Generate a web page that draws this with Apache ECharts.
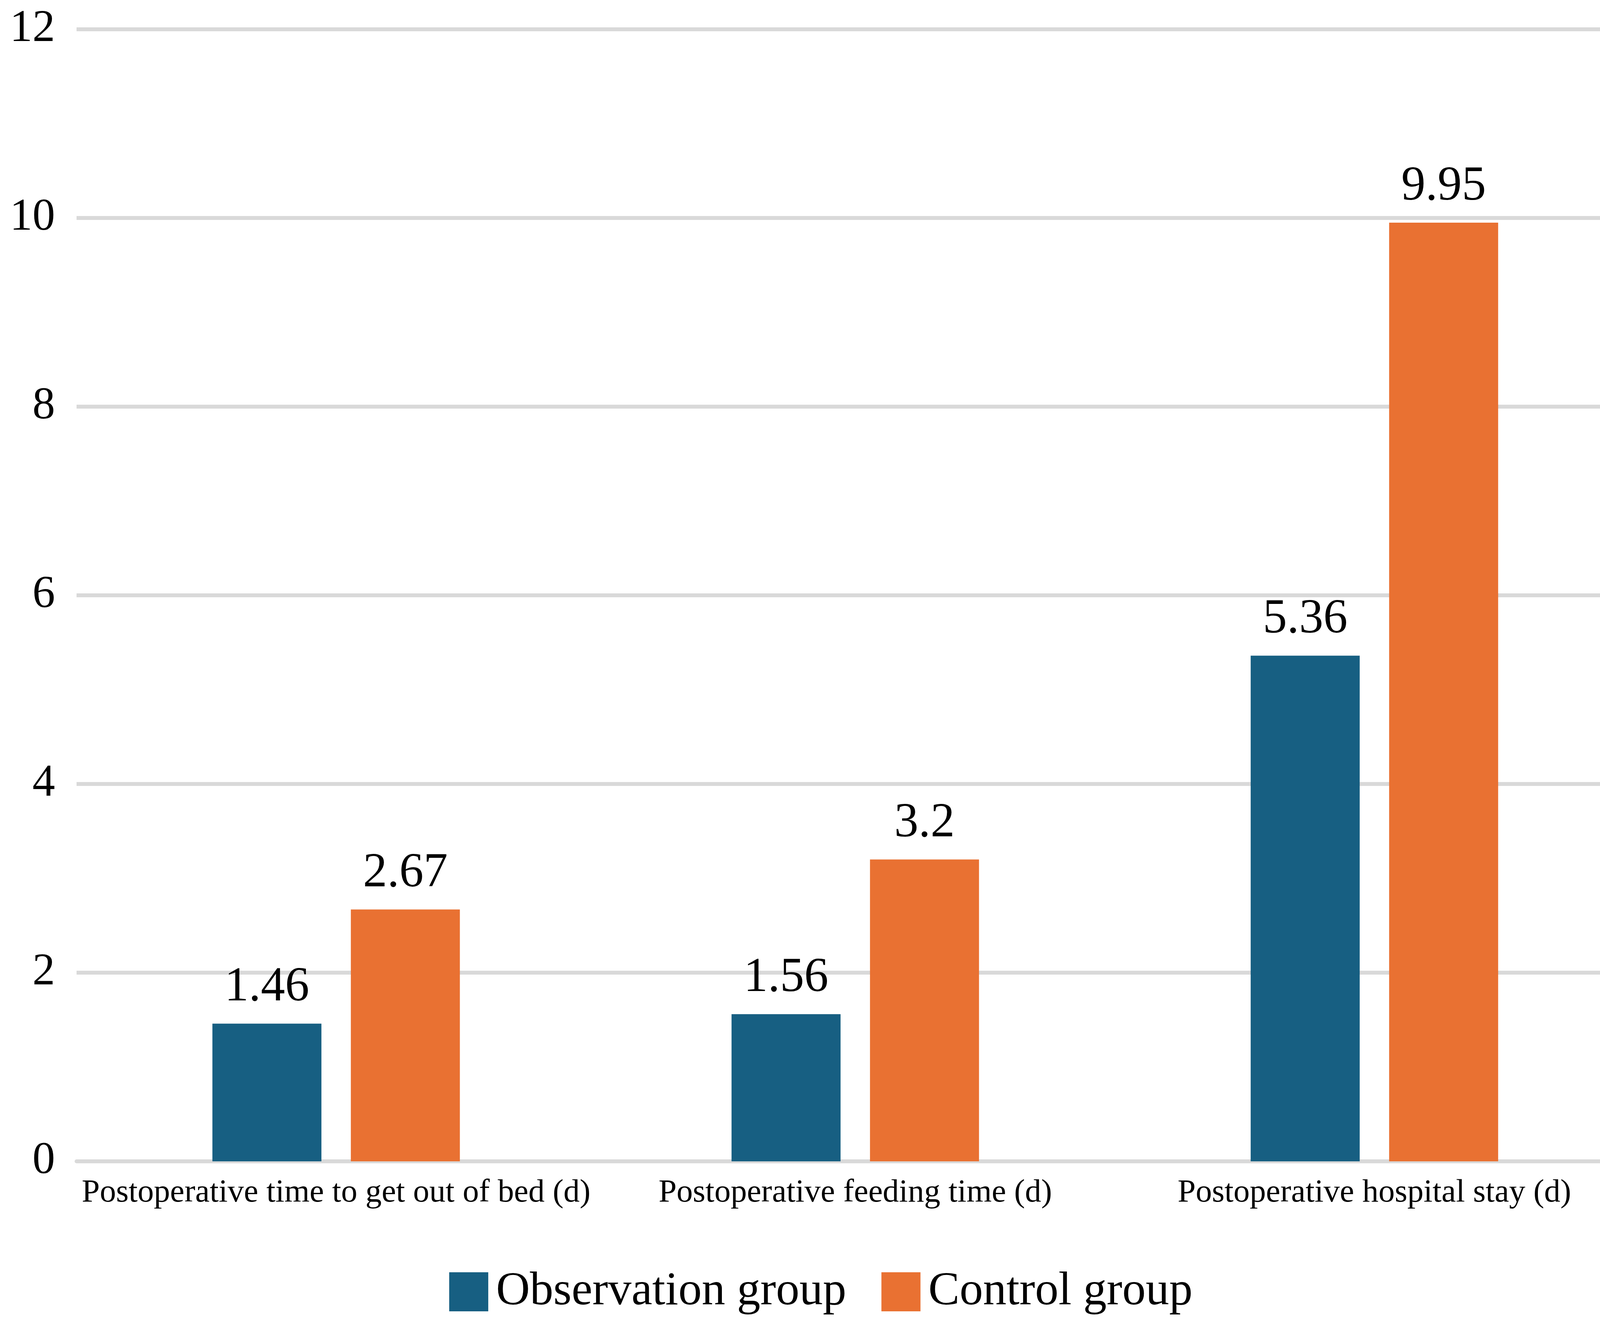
<!DOCTYPE html>
<html><head><meta charset="utf-8">
<script src="https://cdn.jsdelivr.net/npm/echarts@6/dist/echarts.min.js"></script>
<style>html,body{margin:0;background:#fff}#c{width:4203px;height:3392px}</style>
</head><body><div id="c"></div>
<script>
var categories = ['Postoperative time to get out of bed (d)', 'Postoperative feeding time (d)', 'Postoperative hospital stay (d)'];
var observation = [1.46, 1.56, 5.36];
var control = [2.67, 3.2, 9.95];
var yTicks = [0, 2, 4, 6, 8, 10, 12];

var font = 'Liberation Serif';
var chart = echarts.init(document.getElementById('c'));
function lbl() {
  return { show: true, position: 'top', distance: 30, fontFamily: font, fontSize: 124, color: '#000' };
}
chart.setOption({
  animation: false,
  grid: { left: 196, right: 20, top: 75, bottom: 419, outerBoundsMode: 'none' },
  legend: {
    bottom: 20, itemWidth: 100, itemHeight: 100, itemGap: 90, icon: 'rect',
    textStyle: { fontFamily: font, fontSize: 120, color: '#000', padding: [0, 0, 0, 15] },
    data: ['Observation group', 'Control group']
  },
  xAxis: {
    type: 'category', data: categories,
    axisTick: { show: false },
    axisLine: { lineStyle: { color: '#D9D9D9', width: 10 } },
    axisLabel: { fontFamily: font, fontSize: 83, color: '#000', margin: 40, interval: 0 }
  },
  yAxis: {
    type: 'value', min: yTicks[0], max: yTicks[yTicks.length - 1], interval: 2,
    axisLabel: { fontFamily: font, fontSize: 116, color: '#000', margin: 55 },
    splitLine: { lineStyle: { color: '#D9D9D9', width: 10 } }
  },
  series: [
    { name: 'Observation group', type: 'bar', data: observation, barWidth: '21%', barGap: '27%',
      itemStyle: { color: '#175F82' }, label: lbl() },
    { name: 'Control group', type: 'bar', data: control, barWidth: '21%',
      itemStyle: { color: '#E97132' }, label: lbl() }
  ]
});
</script></body></html>
